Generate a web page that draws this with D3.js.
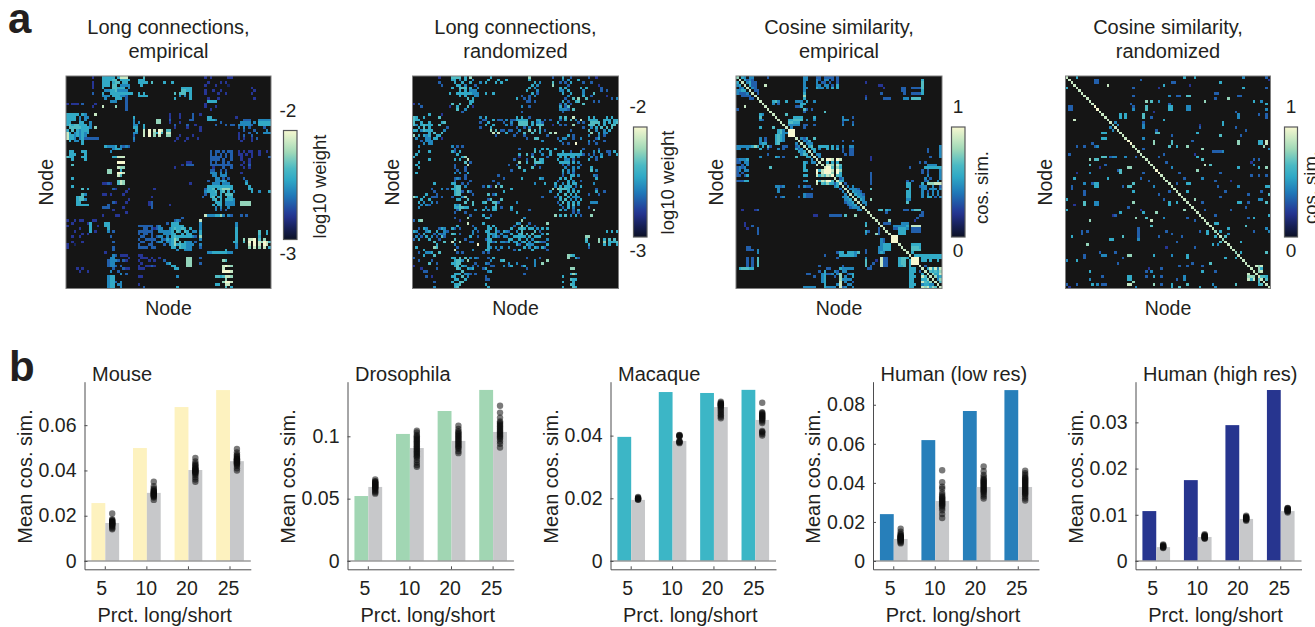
<!DOCTYPE html>
<html>
<head>
<meta charset="utf-8">
<script src="https://cdn.jsdelivr.net/npm/d3@7"></script>
<style>
body { margin: 0; background: #fff; overflow: hidden; }
text { font-family: "Liberation Sans", Arial, sans-serif; fill: #231f20; }
.axis text { font-size: 19.5px; fill: #231f20; }
.axis path, .axis line { stroke: #4d4d4f; stroke-width: 1; }
</style>
</head>
<body>
<svg id="fig" width="1315" height="627"></svg>
<script>
// ---- panel a data: upper triangle of each matrix, [row, "col/level col-col/level"], level 1-9
var longEmpCells = [
[0,"10/2 14-18/5 20/5 21-23/8 30/6 54/2 56/2 63-64/2"],[1,"14-17/5 18-19/6 21-24/5 30/5 28-29/5"],
[2,"10/2 14-16/5 18/5 19-20/6 22-23/5 28-31/5 33/6 38/5 41/5 55/2 60/2 62/2"],
[3,"10/2 14-16/5 18-19/6 21-24/4 29/5 54/2 58/2 63/1"],[4,"10/2 14/5 18-19/6 20-22/5 24/4 45-48/5 72/2"],
[5,"15-16/4 17-18/5 19/6 20-23/4 45-46/6 47-48/5 54/2 57/2 60/2 73/2"],
[6,"10/3 14/5 17/5 18-25/5 28/5 30/5 42/6 44-46/6 48/5 54/2 59/2 62/2 72/2"],
[7,"14-16/4 18-20/5 21-22/4 23/3 28-31/5 44/4 46/4 48/5"],[8,"15/4 19-21/5 23/3 42/5 48/5 55/2 59/2 73/2"],
[9,"17-19/4 23/3 55-58/5"],[10,"11/2 23/3 54/2"],[11,"14/8 19/7 23/3 54/2 58/2"],[12,"23/3 56/2"],
[14,"40/2 44/2 49/3 52/2"],[15,"26/5 40/2 44/2 49/3 55-56/5 66/2"],
[16,"26/4 35-36/7 40/3 48-49/3 55-57/5 58/4 69-71/3 75-79/4"],
[17,"26/4 28/4 35-36/7 40/2 44/2 60/3 68-71/4 73/4 75-79/5"],
[18,"26-27/4 30/5 42/3 47/3 50/2 58/3 62/3 64-65/3 67-71/4 72/3 75-79/5"],
[19,"26-27/5 30/5 42/2 47/2 52/2 67/3 69/4 71/3 77/3"],
[20,"27/5 30/8 32/9 34/8 36/9 37/8 39-40/6 52/2 69/3 73/3 78/4"],
[21,"26-27/4 30/8 32/9 34/7 35/5 36/9 37/6 39-40/8 67/2 71/3 74/4 77-79/4"],
[22,"26/3 30/8 32/9 34/7 36/8 39-40/7 44/2 49/2 67/2 69/3 72/3"],
[23,"26/4 43/2 47/2 51/2 67/2 69/2 72/2 74/3"],[24,"26/3 42/2 46/2 68/2 72/2"],
[28,"56/3 58-59/3 61/3 63-64/3 67/2 69/2 71-72/2 75/2 78/2"],
[29,"56/3 58/3 60/3 62/3 64/3 67-68/2 70/2 72/2 75/2"],
[30,"56-59/3 60/3 62/3 64/3 68/2 72/2 79/3"],[31,"56-58/3 59/3 61/3 64/3 68/2 71/2"],
[32,"47-48/2 56/3 58/3 61/3 63/3 69/2 71/2"],[33,"45/2 47-49/3 56-58/3 59-61/3 62-64/3 68/2 71/3"],
[34,"42/2 57/2 61/3 64/3 69/2 71/2"],[35,"56-57/3 60/3 62/3"],[36,"56-58/4 60/4 62/4 68/2"],
[37,"57-58/4 60-62/4"],[38,"58-59/4 61/3 63/3 69/3"],[39,"55/3 58-60/4 61/5 62/4 70/4"],
[40,"48/2 57-59/4 61-63/4 70/5"],[41,"55-64/5 71/5"],
[42,"54/3 55-56/5 57/6 59/5 60/6 61-63/7 64/5 71-72/5"],
[43,"54/4 55-57/5 58/6 60/5 61/6 63/5 65/4 72/5 75/4 79/5"],
[44,"54/3 56-58/5 60/5 62-64/6"],[45,"53/3 56/5 57/6 59/5 60/5 63-64/5"],
[46,"57/5 58/6 60/5 62-64/5 65/4"],[47,"58-60/5 62-65/4 68-71/7"],
[48,"57/5 59-60/5 62-65/4 68-71/7"],[49,"58/4 60/4 63/4"],[50,"58/4 60/3 62/3"],
[52,"54/8 55-57/4 58-59/5 60/7 61/4 63/4 64/3 68/3 70/3"],
[55,"66/4"],[56,"66/4"],[57,"66/5"],[58,"66/5 75/6 78/5"],[59,"66/5 75/6 78/5"],[60,"66/5 75/5"],
[61,"66/5 69/7 71-72/8 73/9 75/6 77/7"],[62,"65/5 66/5 69/6 71/9 73/9 75/8 76/7 77/9 78/8 79/6"],
[63,"66/4 71/8 73/9 75/8 77/9 78/8"],[64,"66/4 71/7 73/8 75/7 77/8 79/5"]
];
var longRandCells = [
[0,"10/2 15-18/6 20/5 22/7 30/5 45/7 54/3 58/5 61/3 68/3 71/2"],
[1,"15-16/5 18/4 20/5 23/4 29/5 33/5 36/5 45/5 58/4 60/4 64/5"],
[2,"10/3 16/5 19/5 22/5 26/4 28/5 32/5 34/5 47/5 49/4 54/6 57/3 59/3 61/5 66/3 69/3"],
[3,"11/3 17-18/5 20/4 24/3 46/5 48/4 54/7 60/3 72/2"],
[4,"15/5 18-20/6 22/5 25/4 45/5 47/4 57/5 59/5 65/5 67/5 73/3"],
[5,"18/5 20/5 22-24/4 44/5 48/4 57-58/4 60/5 66/4 73/3 75/3"],
[6,"14/5 17/5 18-22/5 23-25/4 28/5 31/5 46/5 48/3 58/5 61/5 66/4 70/6"],
[7,"18/5 20/5 24-25/4 42/3 45/3 47/4 60/4 66/5 69/3 75/2"],
[8,"21/6 23/5 40/5 43/3 45/3 59/3 62/6 64/7 67/6 77/3 79/4"],
[9,"22/5 23/5 44-45/3 47/3 58/5 60/3 63/5 64/6 70/3 72/3"],
[10,"15/6 18/6 22/5 57/3 59/4 61/3 66/6"],[11,"14/2 17/5 21/6 23/2 42/4 45/3 57/5 59/3 60/6"],
[12,"17/6 20/4 57-59/4 60/3 62/6"],[13,"19/3 42/3 58/3"],
[15,"26/4 28/5 40/5 42/5 45/3 57/5 59/6 62/8 68/5 70/5 75/5 77/5"],
[16,"27-28/3 31/5 33-34/3 36/4 38-39/3 40-44/5 48-49/5 51/3 53/3 57/3 59/5 61/6 63/4 65/8 68-71/5 74-76/5 78-79/5"],
[17,"26/3 29/5 35/3 38/4 41-44/6 46/5 48/4 49/5 50/3 56/5 64/3 66/3 69-72/6 74/5 76/5 78/5 79/6"],
[18,"28/5 31/5 36/4 38/3 41-44/6 46/5 48-50/6 54/2 57/3 59/3 62/7 68-70/6 72/5 74/5 77-78/6"],
[19,"26/3 30/5 40/3 43/3 45/4 49/6 66/3 69/4 71/5 73/6 75/6 77/6"],
[20,"30/7 32/6 34-35/3 37-38/3 41/4 45/7 47/6 49/5 51/3 61/3 68/6 71/4 74/4 76/5"],
[21,"31/8 33/8 36/5 40/3 43/6 46/6 49/5 53/7 55/8 69/7 72/5 74-75/4"],
[22,"32/3 39/3 43/3 52/3 60/5 62/3 68/4 72/4 74/3"],
[23,"44/3 47/6 48/6 56/3 58-59/4 62/3 65/4 71/3 72/5"],[24,"50/4 57/4 68/4 70/3 74/3"],
[25,"58/3 60/3 63/9 68/3 71/3"],[27,"41/3 47/5 50/5 52/5 55/5 66/3 72/3"],
[28,"47/6 49/4 53/5 58/5 61/3 65/5 70/4 72/5 75-76/3 78/5"],
[29,"41/5 44/6 46/3 50/4 53/5 56-65/5 66/3 68/3 70/3 73/4 76/3 79/5"],
[30,"41/2 46/6 52/3 57/5 59/5 61-62/5 64/4 69/4 71/3 73/5"],
[31,"39/3 44/3 47/6 49-50/5 56/5 59-60/4 62/3 68/5 71/3"],
[32,"41/7 44/5 47-49/6 50/5 57-60/5 62/5 64/4"],[33,"37/3 40/3 47/3 58/3 60/3 65/3"],
[34,"41/6 46/6 49/3 59/4 62/4 64/4 69/5"],[35,"38/3 43/5 58/5 60/4 62/4 69/6 71/4"],
[36,"58/4 60/4 62/3"],[37,"58/3 61-62/5 64/4 70/4 71/3"],[38,"42/5 49/5 50/4 57/5 59/5 61/5 71/5"],
[39,"56/3 60/5 62/4 65/3"],[40,"47/4 51/5 55/5 58/4 60/5 62-63/5 70/4"],
[41,"55/4 57/5 59-61/5 63/3 65/5"],[42,"54/7 56/7 57-59/6 60/5 62/4 71/3"],
[43,"53/4 57/5 60/5 62/5 64/5 71/5 74/3"],[44,"56/5 59/6 61/5 63/5 68/3 72/3"],
[45,"50/3 55/3 57/5 60/5 62-64/4"],[46,"57/5 59/6 61/4 63/4 65/5"],
[47,"56/3 58/6 60/5 62/5 64/5 69-71/4"],[48,"57/4 60/5 62/6 64/4"],[49,"58/3 60/5 62/4 68/3"],
[50,"57/5 59/4 62/3 64/5 70/7"],[51,"62/3 64/3"],[52,"55/7 57/5 59/6 61/4 63/5 65/3 69/7"],
[58,"75/5 77/5 79/5"],[60,"67-68/7"],[61,"67/6 72/7 74/5 76/6 78/6"],
[62,"67/5 72/7 74/7 76-78/5 79/6"],[63,"68/5 74/5 76/5 79/5"],[64,"68/3"]
];
var cosEmpCells = [
[0,"2/5 3/4 5-6/4 12/3 26-27/4 31-32/3 34-37/3 39/3"],
[1,"3/5 4/3 5/4 6/3 26-27/4 31/4 32/3 34-35/4 37/3 39/3 72/5"],
[2,"4/4 5/5 6-7/3 26/4 31/4 33-34/3 36/3 39/3 50/2 72/6"],
[3,"5/5 6/3 7/3 11/8 26/4 31-32/4 34-35/4 37/3 39/5 55-56/2 72/6"],
[4,"6/4 7/3 26-27/4 31/5 32-33/4 35/4 37/5 39/5 57/2 64-65/3 68-71/3 72/6"],
[5,"7/3 8/3 26/4 64-65/3 72/5"],[6,"8/3 26/5 56/3 65/3 68-71/3 72/5"],
[7,"26/7 50/2"],[8,"26/5 50/3 57-59/3 65-66/4 68-71/6"],
[9,"14/5 15/6 16/4 19/5 23-25/4 27/5 30/4"],[10,"14/4 16/3 25-26/5"],
[11,"23-24/3 25/5"],[12,"26/6 27/3 29/3"],[13,"26/3 34/6"],[14,"19/6"],
[15,"22-25/5 30/5 41/4 45/3"],[16,"20-21/5 22-25/6 27/4 30/4 41-43/4"],
[17,"20-21/6 22-24/5 41/3 45/3"],[18,"20-24/4 26-27/3 30/3 41/4 45/4"],[19,"21/4 26/3"],
[20,"21-22/9"],[21,"22/9"],[23,"25/4 26/3 27/5 30/6"],
[24,"26/4 27/3 28/5 41/3 45/3"],[25,"27/4 28-29/4"],
[26,"28/5 29/6 32-35/5 37/5 39/4 41/4 44-45/4 79/4"],
[27,"29/5 30/5 32/4 35/5 37/5 39/5 41/3 44-45/3 74/3 79/4"],
[28,"30/5 41/3 44-45/3 74/3 79/4"],[29,"31/4 32/4 42/3 44-45/3 79/4"],
[30,"32/4 52/2 75/3 79/4"],
[31,"33/8 35-36/9 37/8 39/9 40/8 52/2"],[32,"35/5 37/5 39/5 71/3 73/3"],
[33,"35/8 36/8 37/7 39/8 40/6 74-77/4"],[34,"35/9 36/9 37/6 39/7 40/5 67/3 73-79/5"],
[35,"36/9 37/8 39/9 40/7 72/3 74/3 79/4"],[36,"37/7 39/9 40/5 52/3 72/3 74/3 79/4"],
[37,"39/6 40/5 52/3 74/4 79/4"],[38,"40/3 41/4 52/3 73/4 75/3 79/4"],
[39,"40/5 41/5 52/3 66/3 68/3 73/3 74/4 78/4"],
[40,"42/3 52/3 66-67/5 72/5 74-76/7 77-79/8"],
[41,"43/4 45/4 66-67/5 71/3 72-73/4 76/4 79/3"],
[42,"44-45/4 46/4 47/3 52/6 67/5 72-73/4 75-77/4 79/4"],
[43,"45/5 46/4 47/4 48/3 66-67/5 72/4 74/3 76/4 78/4"],
[44,"46/5 47/4 48/4 49/3 66-67/5 72/4 74/4 76/4 78/4"],
[45,"47/5 48/4 49/4 66-67/5 72/4 74-75/5 77/3 79/4"],
[46,"48/5 49/4 52/7 66-67/4"],[47,"49/4 50/4 66/6"],[48,"50/4"],
[50,"55/5 56/6 58/5 59/4 65-66/3 68/4 69-71/6"],[51,"58/3 72/3"],[52,"71-72/3"],
[53,"70/3"],[54,"59/7 69/2"],[55,"57-59/3 64-66/4"],[56,"61-63/4 64-65/4 66/5 68-71/8"],
[57,"61-62/3 63-65/5 66/4 68-71/3"],[58,"63-65/5 68-71/3"],[59,"63-65/5"],
[60,"61/9 62/9"],[61,"62/9"],[63,"68-71/5"],[64,"68-70/6 71/5"],
[65,"68-71/6"],[66,"68/5"],
[67,"69-71/5 72-79/5"],[68,"69/9 70/9 72-79/5"],[69,"70/9 72-73/5 75/5 78/5"],
[71,"73/3"],[72,"74/5 75/8 76/5 77/8 78/4 79/8"],[73,"75/6 76/5 77/6 78/5 79/7"],
[74,"76/7 77/5 78/5 79/8"],[75,"77/7 78/4 79/5"],[76,"78/4 79/7"],[77,"79/6"]
];
var cosRandCells = [
[0,"4/5 46/5 50/5 69/4 78/3"],[1,"29/3 11-12/3 79/2"],[2,"11-12/3 41-42/3 60/5"],
[3,"16/8 38/5 48/2"],[4,"26/3 69/5 78/3 36/2"],[6,"58-59/3"],
[7,"26/3 40/4 43-44/3 47-48/6 67-68/3"],[8,"58/3 63/7"],
[9,"31/7 33/6 36/4 54/7 73/5 76/4"],[10,"25/3 78/5 40/3"],[11,"31/6 26/3 40-41/5 47-48/4"],
[12,"26/4 31/6 40-41/5 47-48/4 78/4"],[13,"66/3 34/2"],
[14,"21/5 23/5 30/6 67/4 75/3 78/3"],[15,"21/5 23/5 30/6 33/3 67/4 78/3"],[16,"38/5"],
[17,"30/3 61/5 19/4"],[18,"30/4 61/5 20/4 52/2"],[19,"30/4 52/3 66/3"],[20,"70/3 35/3"],
[21,"35-36/6 51/5"],[22,"41/3 60/6 68/3"],[23,"30/4"],
[24,"34/7 41/6 49/3 67/7 75-76/5 78/8"],[25,"34/7 41/6 67/7 75-76/5 78/8"],
[26,"40/6 43/5 47/7 77/7"],[27,"53/7 79/4 30/3"],[28,"57-60/3 61/4"],[29,"38/3 50/2"],
[30,"51/5 36/3"],[31,"53/6 73/3 75/3"],[32,"39/3 72/2"],[33,"54/8 56/6 73/4"],
[34,"41/4 67/5 75/5 78/7"],[35,"51/7"],[36,"44/3 60/3"],
[37,"75/3 78/3 72/3"],[38,"53/4 46/3"],[39,"58/3 64/2"],[40,"47-48/5 43/3"],
[41,"59/3 67/4 78/5 79/5"],[43,"47/5 62/3 76/3"],[44,"71/3 79/6"],[45,"60/3"],
[46,"50/7 75-76/4"],[47,"53/3 67-68/5 71/3 78/6"],[49,"70/3"],[50,"54/3 64/3"],
[52,"79/5 58/3"],[53,"71/3 73/5"],[55,"58/5 59/5"],[56,"70/6"],
[57,"63/5 78/4"],[58,"60/5 73/3 79/4"],[59,"63/4"],[60,"62/6"],[62,"68/5"],
[66,"68/5 78/6"],[71,"74/8 75/7 76/8"],[72,"75/7 76/5"],[73,"75/7 76/8"],
[75,"76/6 77/6 78/5"],[76,"78/6"]
];
// diagonal levels, node 0 to 79
var cosEmpDiag = [7,8,8,8,8,8,8,8,8,8,8,8,8,8,8,8,8,8,8,8,9,9,9,8,8,8,8,8,8,8,8,8,8,8,8,9,9,9,8,8,8,8,8,8,8,8,8,8,8,8,8,8,8,8,8,8,8,8,8,8,9,9,9,8,8,8,8,8,9,9,9,8,8,8,8,8,8,8,8,8];
var cosRandDiag = [8,8,8,8,8,8,8,8,8,8,8,9,9,8,8,8,8,8,7,8,8,8,8,8,9,9,8,8,8,8,8,8,8,8,8,9,9,8,8,8,8,8,8,8,8,8,8,8,8,8,8,8,8,8,8,8,8,8,7,8,8,7,8,8,8,8,7,8,8,8,8,8,8,8,8,8,8,8,8,8];

// ---- panel b data
var prct = ["5", "10", "20", "25"];
var mouseEmp = [0.0256, 0.0499, 0.068, 0.0755];
var mouseNull = [0.0168, 0.0301, 0.0402, 0.0441];
var mouseDots = [
  [.021,.0185,.018,.0178,.0175,.0172,.017,.0168,.0166,.0165,.0163,.016,.0158,.0155,.015,.0145,.014],
  [.035,.033,.032,.0315,.031,.0307,.0305,.0302,.03,.0297,.0295,.0292,.029,.0287,.0285,.028,.027],
  [.0455,.044,.043,.0425,.042,.0415,.041,.0407,.0405,.0402,.04,.0397,.0395,.0392,.039,.0385,.038,.037,.036,.035],
  [.0495,.048,.047,.0465,.046,.0455,.0452,.045,.0447,.0445,.0442,.044,.0437,.0435,.0432,.043,.0425,.042,.041,.04]];
var flyEmp = [0.0521, 0.1019, 0.1203, 0.1372];
var flyNull = [0.0594, 0.0906, 0.0963, 0.1035];
var flyDots = [
  [.0655,.064,.0635,.063,.0625,.062,.0615,.061,.0605,.06,.0595,.059,.0585,.058,.057,.056,.055,.054],
  [.1045,.103,.101,.1,.099,.098,.097,.096,.095,.094,.093,.092,.091,.09,.089,.088,.087,.086,.085,.084,.083,.081,.079,.077,.0755],
  [.1085,.106,.104,.103,.102,.101,.1,.099,.098,.097,.096,.095,.094,.093,.092,.091,.09,.088,.0865],
  [.1245,.119,.115,.112,.111,.11,.109,.108,.107,.106,.105,.104,.103,.102,.101,.1,.099,.098,.096,.094,.091]];
var macaqueEmp = [0.0396, 0.0539, 0.0536, 0.0546];
var macaqueNull = [0.0195, 0.0383, 0.0491, 0.045];
var macaqueDots = [
  [.0204,.0202,.02,.0199,.0198,.0196,.0195],
  [.0402,.0401,.04,.0398,.0397,.0382,.0381,.038,.0378,.0376],
  [.0508,.0505,.0503,.0501,.05,.0498,.0497,.0495,.0493,.049,.0485,.048,.0475,.047,.0465,.046,.0455],
  [.0505,.0475,.0472,.047,.0467,.0465,.0462,.046,.0457,.0455,.0452,.045,.0445,.044,.0415,.0412,.041,.0405,.04]];
var humanLowEmp = [0.024, 0.0619, 0.0768, 0.0875];
var humanLowNull = [0.0113, 0.0307, 0.0379, 0.0379];
var humanLowDots = [
  [.0165,.015,.014,.0135,.013,.0127,.0125,.0122,.012,.0117,.0115,.0112,.011,.0107,.0105,.01,.0095,.009],
  [.0465,.0403,.038,.037,.035,.034,.033,.0325,.032,.0315,.031,.0305,.03,.0295,.029,.0285,.028,.027,.026,.024,.022],
  [.0484,.046,.044,.043,.042,.0415,.041,.0405,.04,.0395,.039,.0385,.038,.0375,.037,.0365,.036,.0355,.035,.034,.033,.032],
  [.0462,.045,.044,.043,.0425,.042,.0415,.041,.0405,.04,.0395,.039,.0385,.038,.0375,.037,.0365,.036,.0355,.035,.0345,.034,.033,.032,.031]];
var humanHighEmp = [0.0108, 0.0175, 0.0294, 0.037];
var humanHighNull = [0.003, 0.0052, 0.0091, 0.0108];
var humanHighDots = [
  [.0036,.0034,.0033,.0032,.0031,.003,.0029,.0028],
  [.0058,.0056,.0055,.0054,.0053,.0052,.0051,.005,.0049,.0048],
  [.0098,.0096,.0095,.0094,.0093,.0092,.0091,.009,.0089,.0087],
  [.0115,.0114,.0113,.0112,.0111,.011,.0109,.0108,.0107,.0105]];

var svg = d3.select("#fig");
var nNodes = 80;

// YlGnBu-like map
var cmap = d3.scaleLinear()
    .domain([0, 0.1, 0.22, 0.4, 0.55, 0.66, 0.8, 1])
    .range(["#0b1024", "#161f55", "#253494", "#1f78b8", "#2fa9c6", "#4dbbc4", "#a0d9b8", "#f7f8d0"]);

function parseCells(rows, diag) {
  var cells = [];
  rows.forEach(function(row) {
    row[1].split(" ").forEach(function(tok) {
      var parts = tok.split("/"), ends = parts[0].split("-");
      for (var c = +ends[0]; c <= +ends[ends.length - 1]; c++) {
        cells.push({r: row[0], c: c, v: +parts[1] / 9});
        cells.push({r: c, c: row[0], v: +parts[1] / 9});
      }
    });
  });
  if (diag) diag.forEach(function(l, i) { cells.push({r: i, c: i, v: l / 9}); });
  return cells;
}

var defs = svg.append("defs");
var grad = defs.append("linearGradient").attr("id", "cbar")
    .attr("x1", 0).attr("x2", 0).attr("y1", 1).attr("y2", 0);
d3.range(0, 1.001, 0.05).forEach(function(t) {
  grad.append("stop").attr("offset", t).attr("stop-color", cmap(t));
});
// the reference cells are slightly soft
defs.append("filter").attr("id", "soft")
  .append("feGaussianBlur").attr("stdDeviation", 0.45);

var heatPanels = [
  {title: ["Long connections,", "empirical"], cells: parseCells(longEmpCells), x: [66, 271], y: [76, 288.5],
   cb: [283.5, 297, 130.5, 239.5], ends: ["-2", "-3"], label: "log10 weight", labelX: 326, labelY: 186.5, nodeX: 53, endAnchor: 288},
  {title: ["Long connections,", "randomized"], cells: parseCells(longRandCells), x: [412.5, 618.5], y: [76, 288.5],
   cb: [633.5, 647, 127, 237], ends: ["-2", "-3"], label: "log10 weight", labelX: 674, labelY: 182.5, nodeX: 399, endAnchor: 638},
  {title: ["Cosine similarity,", "empirical"], cells: parseCells(cosEmpCells, cosEmpDiag), x: [736, 942], y: [76, 288.5],
   cb: [951.5, 965, 127, 237], ends: ["1", "0"], label: "cos. sim.", labelX: 988, labelY: 187.5, nodeX: 723, endAnchor: 958},
  {title: ["Cosine similarity,", "randomized"], cells: parseCells(cosRandCells, cosRandDiag), x: [1065.5, 1270.5], y: [76, 288.5],
   cb: [1284.5, 1297.5, 127, 237], ends: ["1", "0"], label: "cos. sim.", labelX: 1317, labelY: 187.5, nodeX: 1052, endAnchor: 1291}
];

heatPanels.forEach(function(p) {
  var cx = (p.x[0] + p.x[1]) / 2;
  var x = d3.scaleBand().domain(d3.range(nNodes)).range(p.x);
  var y = d3.scaleBand().domain(d3.range(nNodes)).range(p.y);
  var g = svg.append("g");

  g.append("rect").attr("x", p.x[0]).attr("y", p.y[0])
      .attr("width", p.x[1] - p.x[0]).attr("height", p.y[1] - p.y[0])
      .attr("fill", "#151515");

  g.append("g").attr("filter", "url(#soft)").selectAll(".cell")
    .data(p.cells)
    .enter()
    .append("rect")
    .attr("class", "cell")
    .attr("x", function(d) { return x(d.c); })
    .attr("y", function(d) { return y(d.r); })
    .attr("width", x.bandwidth())
    .attr("height", y.bandwidth())
    .attr("shape-rendering", "crispEdges")
    .attr("fill", function(d) { return cmap(d.v); });

  g.append("rect").attr("x", p.x[0]).attr("y", p.y[0])
      .attr("width", p.x[1] - p.x[0]).attr("height", p.y[1] - p.y[0])
      .attr("fill", "none").attr("stroke", "#7d7d7d").attr("stroke-width", 1);

  g.selectAll(".ttl").data(p.title).enter().append("text")
      .attr("x", cx).attr("y", function(d, i) { return 34 + i * 24; })
      .attr("text-anchor", "middle").style("font-size", "20px")
      .text(function(d) { return d; });

  g.append("text").attr("x", cx).attr("y", 315).attr("text-anchor", "middle")
      .style("font-size", "19.5px").text("Node");
  g.append("text")
      .attr("transform", "translate(" + p.nodeX + "," + ((p.y[0] + p.y[1]) / 2) + ") rotate(-90)")
      .attr("text-anchor", "middle").style("font-size", "19.5px").text("Node");

  g.append("rect").attr("x", p.cb[0]).attr("y", p.cb[2])
      .attr("width", p.cb[1] - p.cb[0]).attr("height", p.cb[3] - p.cb[2])
      .attr("fill", "url(#cbar)").attr("stroke", "#58595b").attr("stroke-width", 1.2);

  g.append("text").attr("x", p.endAnchor).attr("y", p.cb[2] - 14).attr("text-anchor", "middle")
      .style("font-size", "19px").text(p.ends[0]);
  g.append("text").attr("x", p.endAnchor).attr("y", p.cb[3] + 20).attr("text-anchor", "middle")
      .style("font-size", "19px").text(p.ends[1]);
  g.append("text")
      .attr("transform", "translate(" + p.labelX + "," + p.labelY + ") rotate(-90)")
      .attr("text-anchor", "middle").style("font-size", "18.5px").text(p.label);
});

// panel letters
svg.append("text").attr("x", 8).attr("y", 33).style("font-size", "42px").style("font-weight", "bold").text("a");
svg.append("text").attr("x", 9).attr("y", 381).style("font-size", "42px").style("font-weight", "bold").text("b");

// ---- bars
var barPanels = [
  {name: "Mouse", emp: mouseEmp, nul: mouseNull, dots: mouseDots, color: "#fdf2bf", x: [84.5, 250.8], dom: [-0.00366, 0.0792], ticks: [0, 0.02, 0.04, 0.06]},
  {name: "Drosophila", emp: flyEmp, nul: flyNull, dots: flyDots, color: "#a1d6b3", x: [347.5, 513.9], dom: [-0.00666, 0.1438], ticks: [0, 0.05, 0.1]},
  {name: "Macaque", emp: macaqueEmp, nul: macaqueNull, dots: macaqueDots, color: "#3cb6c6", x: [610.5, 776], dom: [-0.00265, 0.0572], ticks: [0, 0.02, 0.04]},
  {name: "Human (low res)", emp: humanLowEmp, nul: humanLowNull, dots: humanLowDots, color: "#277fba", x: [873, 1039], dom: [-0.00425, 0.0918], ticks: [0, 0.02, 0.04, 0.06, 0.08]},
  {name: "Human (high res)", emp: humanHighEmp, nul: humanHighNull, dots: humanHighDots, color: "#27358f", x: [1135.5, 1301.5], dom: [-0.0018, 0.0388], ticks: [0, 0.01, 0.02, 0.03]}
];
var barBottom = 569.3, barTop = 381.7;
var tickShift = [-3.5, -0.5, -1.5, -1.5];

barPanels.forEach(function(p) {
  var g = svg.append("g");
  var x = d3.scaleBand().domain(prct).range(p.x);
  var sub = d3.scaleBand().domain(["emp", "nul"]).range([x.bandwidth() / 6, x.bandwidth() * 5 / 6]);
  var y = d3.scaleLinear().domain(p.dom).range([barBottom, barTop]);

  g.selectAll(".emp").data(p.emp).enter().append("rect")
      .attr("x", function(d, i) { return x(prct[i]) + sub("emp"); })
      .attr("y", function(d) { return y(d); })
      .attr("width", sub.bandwidth())
      .attr("height", function(d) { return y(0) - y(d); })
      .attr("fill", p.color);

  g.selectAll(".nul").data(p.nul).enter().append("rect")
      .attr("x", function(d, i) { return x(prct[i]) + sub("nul"); })
      .attr("y", function(d) { return y(d); })
      .attr("width", sub.bandwidth())
      .attr("height", function(d) { return y(0) - y(d); })
      .attr("fill", "#c7c8ca");

  p.dots.forEach(function(vals, i) {
    g.selectAll(".dot" + i).data(vals).enter().append("circle")
        .attr("cx", x(prct[i]) + sub("nul") + sub.bandwidth() / 2)
        .attr("cy", function(d) { return y(d); })
        .attr("r", 3.2)
        .attr("fill", "#0c0c0c")
        .attr("fill-opacity", 0.55);
  });

  g.append("line").attr("x1", p.x[0]).attr("x2", p.x[1])
      .attr("y1", y(0)).attr("y2", y(0))
      .attr("stroke", "#9b9b9b").attr("stroke-width", 1.5);

  g.append("g").attr("class", "axis")
      .attr("transform", "translate(0," + barBottom + ")")
      .call(d3.axisBottom(x).tickSize(-3).tickSizeOuter(0).tickPadding(12))
      .selectAll("text").attr("dx", function(d, i) { return tickShift[i]; });

  g.append("g").attr("class", "axis")
      .attr("transform", "translate(" + p.x[0] + ",0)")
      .call(d3.axisLeft(y).tickValues(p.ticks).tickFormat(d3.format("~r")).tickSize(-3).tickSizeOuter(0).tickPadding(8));

  g.append("text").attr("x", p.x[0] + 7.5).attr("y", 381)
      .style("font-size", "20px").text(p.name);

  g.append("text").attr("x", (p.x[0] + p.x[1]) / 2 - 3).attr("y", 621.5)
      .attr("text-anchor", "middle").style("font-size", "20px").text("Prct. long/short");

  g.append("text")
      .attr("transform", "translate(" + (p.x[0] - 53) + ",476.5) rotate(-90)")
      .attr("text-anchor", "middle").style("font-size", "20px").text("Mean cos. sim.");
});
</script>
</body>
</html>
